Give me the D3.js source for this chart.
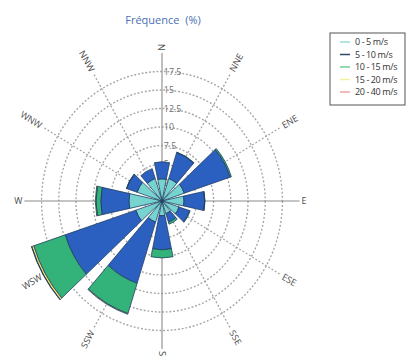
<!DOCTYPE html>
<meta charset="utf-8">
<style>
body { margin: 0; background: #fff; }
svg { font-family: "Open Sans", "DejaVu Sans", sans-serif; }
</style>
<svg width="408" height="363"></svg>
<script src="https://d3js.org/d3.v7.min.js"></script>
<script>

// wind directions (12 sectors of 30 degrees)
var directions = ["N", "NNE", "ENE", "E", "ESE", "SSE", "S", "SSW", "WSW", "W", "WNW", "NNW"];

// frequency (%) per speed class, one value per direction
var speed0_5   = [3.0, 3.2, 3.4, 3.2, 2.6, 1.8, 2.0, 3.0, 4.0, 4.8, 3.8, 3.2];
var speed5_10  = [2.3, 3.7, 7.0, 3.0, 1.6, 1.2, 4.6, 8.7, 10.8, 4.1, 1.6, 1.4];
var speed10_15 = [0, 0.05, 0.2, 0.05, 0.1, 0.3, 1.1, 4.3, 4.8, 0.7, 0.05, 0];
var speed15_20 = [0, 0, 0, 0, 0, 0, 0, 0.1, 0.3, 0.1, 0, 0];
var speed20_40 = [0, 0, 0, 0, 0, 0, 0, 0, 0.05, 0, 0, 0];

var classLabels = ["0 - 5 m/s", "5 - 10 m/s", "10 - 15 m/s", "15 - 20 m/s", "20 - 40 m/s"];
var ringTicks = [2.5, 5, 7.5, 10, 12.5, 15, 17.5];

var keys = ["c0", "c1", "c2", "c3", "c4"];
var barColors = ["#76d3cf", "#2c60c0", "#33b37a", "#f1e66a", "#e86a6a"];
var legendColors = ["#9edbd7", "#2f4868", "#70cf98", "#f2f29e", "#f0a2a2"];

var rows = directions.map(function(d, i) {
  return {dir: d, angle: i * 30,
    c0: speed0_5[i], c1: speed5_10[i], c2: speed10_15[i], c3: speed15_20[i], c4: speed20_40[i]};
});

var svg = d3.select("svg"),
    cx = 162, cy = 201, sx = 0.93;

var r = d3.scaleLinear().domain([0, 17.5]).range([0, 129.5]);
var labelR = 150;
var rad = Math.PI / 180;

svg.append("text")
    .attr("x", 163).attr("y", 24)
    .attr("text-anchor", "middle")
    .attr("font-size", 11)
    .attr("fill", "#4a6fb3")
    .text("Fréquence\u00a0\u00a0(%)");

var g = svg.append("g")
    .attr("transform", "translate(" + cx + "," + cy + ") scale(" + sx + ",1)");

// dashed rings
g.selectAll(".ring")
  .data(ringTicks)
  .enter().append("circle")
    .attr("class", "ring")
    .attr("r", function(d) { return r(d); })
    .attr("fill", "none")
    .attr("stroke", "#a4a4a4")
    .attr("stroke-width", 1.4)
    .attr("stroke-dasharray", "2,2");

// dashed spokes
g.selectAll(".spoke")
  .data(rows.filter(function(d) { return d.angle % 90 != 0; }))
  .enter().append("line")
    .attr("class", "spoke")
    .attr("x1", 0).attr("y1", 0)
    .attr("x2", function(d) { return (labelR - 3) * Math.sin(d.angle * rad); })
    .attr("y2", function(d) { return -(labelR - 3) * Math.cos(d.angle * rad); })
    .attr("stroke", "#a4a4a4")
    .attr("stroke-width", 1.4)
    .attr("stroke-dasharray", "2,2");

// main axes
g.append("line").attr("x1", 0).attr("x2", 0).attr("y1", -labelR + 2).attr("y2", labelR - 2)
    .attr("stroke", "#8c8c8c").attr("stroke-width", 1.2);
g.append("line").attr("y1", 0).attr("y2", 0).attr("x1", -labelR + 2).attr("x2", labelR - 2)
    .attr("stroke", "#8c8c8c").attr("stroke-width", 1.2);

// radial tick labels
g.selectAll(".tick")
  .data(ringTicks)
  .enter().append("text")
    .attr("class", "tick")
    .attr("x", 2)
    .attr("y", function(d) { return -r(d); })
    .attr("dy", "0.35em")
    .attr("font-size", 9.5)
    .attr("fill", "#707070")
    .text(function(d) { return d; });

// stacked bars
var stacked = d3.stack().keys(keys)(rows);
var arc = d3.arc()
    .innerRadius(function(d) { return r(d[0]); })
    .outerRadius(function(d) { return r(d[1]); })
    .startAngle(function(d) { return (d.data.angle - 12) * rad; })
    .endAngle(function(d) { return (d.data.angle + 12) * rad; });

g.selectAll(".layer")
  .data(stacked)
  .enter().append("g")
    .attr("class", "layer")
    .attr("fill", function(d, i) { return barColors[i]; })
  .selectAll("path")
  .data(function(d) { return d.filter(function(s) { return s[1] - s[0] > 0; }); })
  .enter().append("path")
    .attr("d", arc)
    .attr("stroke", "#1f3b5e")
    .attr("stroke-width", 0.8);

// direction labels
g.selectAll(".dir")
  .data(rows)
  .enter().append("text")
    .attr("class", "dir")
    .attr("transform", function(d) {
      var x = labelR * Math.sin(d.angle * rad), y = -labelR * Math.cos(d.angle * rad);
      var rot = d.angle > 180 ? d.angle - 270 : d.angle - 90;
      return "translate(" + x + "," + y + ") rotate(" + rot + ")";
    })
    .attr("text-anchor", function(d) { return d.angle > 180 ? "end" : "start"; })
    .attr("dy", "0.35em")
    .attr("font-size", 9.5)
    .attr("fill", "#4a4a4a")
    .text(function(d) { return d.dir; });

// legend
var legend = svg.append("g").attr("transform", "translate(330,33)");
legend.append("rect")
    .attr("width", 75).attr("height", 72)
    .attr("fill", "#fff").attr("stroke", "#555").attr("stroke-width", 1);

var items = legend.selectAll(".item")
  .data(classLabels)
  .enter().append("g")
    .attr("class", "item")
    .attr("transform", function(d, i) { return "translate(0," + (9 + i * 12.5) + ")"; });

items.append("line")
    .attr("x1", 10).attr("x2", 20)
    .attr("stroke", function(d, i) { return legendColors[i]; })
    .attr("stroke-width", 1.5);

items.append("text")
    .attr("x", 25).attr("dy", "0.35em")
    .attr("font-size", 9)
    .attr("letter-spacing", -0.4)
    .attr("fill", "#333")
    .text(function(d) { return d; });

</script>
